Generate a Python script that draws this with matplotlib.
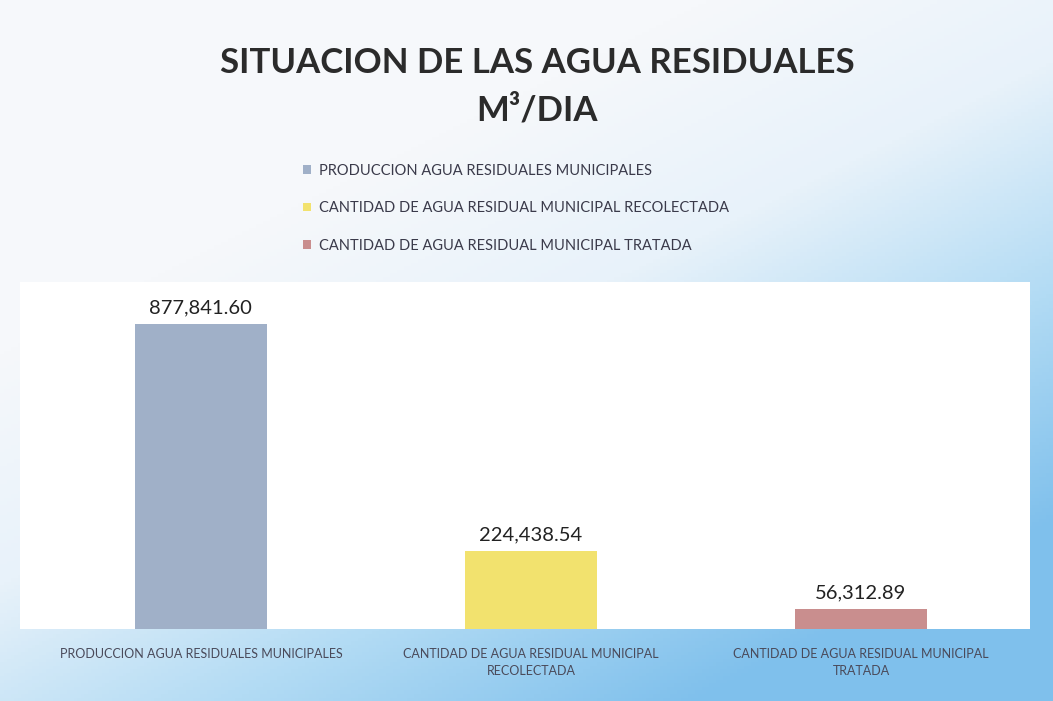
import numpy as np
import matplotlib.pyplot as plt
from matplotlib.colors import LinearSegmentedColormap

categorias = ['PRODUCCION AGUA RESIDUALES MUNICIPALES',
              'CANTIDAD DE AGUA RESIDUAL MUNICIPAL RECOLECTADA',
              'CANTIDAD DE AGUA RESIDUAL MUNICIPAL TRATADA']
etiquetas_x = ['PRODUCCION AGUA RESIDUALES MUNICIPALES',
               'CANTIDAD DE AGUA RESIDUAL MUNICIPAL\nRECOLECTADA',
               'CANTIDAD DE AGUA RESIDUAL MUNICIPAL\nTRATADA']
valores = [877841.60, 224438.54, 56312.89]
colores = ['#a0b0c8', '#f2e26e', '#c98e8e']

plt.rcParams['font.family'] = ['Lato', 'DejaVu Sans']

fig = plt.figure(figsize=(10.53, 7.01), dpi=100)

# fondo degradado (blanco arriba, azul abajo a la derecha)
bg = fig.add_axes([0, 0, 1, 1], zorder=-10)
xx, yy = np.meshgrid(np.linspace(0, 1, 300), np.linspace(0, 1, 200))
grad = np.clip(0.75 * xx + 1.0 * (1 - yy) - 0.5, 0, 1)
cmap = LinearSegmentedColormap.from_list('fondo', ['#f6f8fb', '#e8f2fa', '#b2dbf4', '#7fc0ec'])
bg.imshow(grad, cmap=cmap, aspect='auto', extent=[0, 1, 0, 1], origin='lower')
bg.axis('off')

ax = fig.add_axes([20 / 1053, 0.103, 1010 / 1053, 0.495])
x = np.arange(len(valores))
barras = ax.bar(x, valores, width=0.4, color=colores, label=categorias)
ax.set_xlim(-0.548, 2.512)
ax.set_ylim(0, 1000000)
ax.set_facecolor('white')
for s in ax.spines.values():
    s.set_visible(False)
ax.set_yticks([])
ax.set_xticks(x)
ax.set_xticklabels(etiquetas_x, fontsize=9, color='#4a4a5a', linespacing=1.5)
ax.tick_params(axis='x', length=0, pad=14)

for xi, v in zip(x, valores):
    ax.text(xi, v + 22000, f'{v:,.2f}', ha='center', va='bottom', fontsize=14.5, color='#222222')

fig.text(0.51, 0.91, 'SITUACION DE LAS AGUA RESIDUALES', ha='center', va='center',
         fontsize=25, fontweight='bold', color='#2b2b2b')
fig.text(0.51, 0.843, 'M³/DIA', ha='center', va='center',
         fontsize=25, fontweight='bold', color='#2b2b2b')

leg = fig.legend(handles=barras, labels=categorias, loc='upper left',
                 bbox_to_anchor=(0.275, 0.785), frameon=False, fontsize=10.5,
                 handlelength=0.55, handleheight=0.55, handletextpad=0.6, labelspacing=1.6)
for t in leg.get_texts():
    t.set_color('#3a3a4a')

fig.savefig('out.png', dpi=100)
